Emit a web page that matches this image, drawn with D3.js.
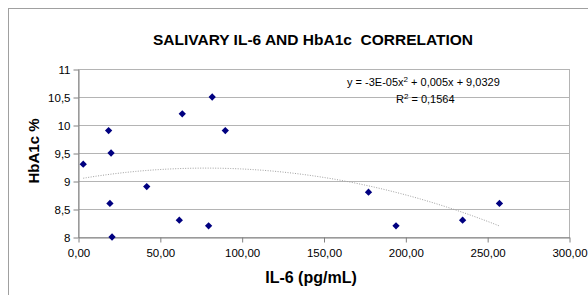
<!DOCTYPE html>
<html>
<head>
<meta charset="utf-8">
<script src="https://cdn.jsdelivr.net/npm/d3@7"></script>
<style>
  body { margin: 0; background: #fff; }
  text { font-family: Arial, "Liberation Sans", sans-serif; }
</style>
</head>
<body>
<div id="chart"></div>
<script>
// IL-6 (pg/mL) and HbA1c % per patient
const il6   = [3.2, 18.7, 20.2, 19.5, 20.8, 42, 63.7, 61.9, 82, 90, 79.8, 177.5, 194.3, 235, 257.5];
const hba1c = [9.3, 9.9, 9.5, 8.6, 8.0, 8.9, 10.2, 8.3, 10.5, 9.9, 8.2, 8.8, 8.2, 8.3, 8.6];

const xTicks = [0, 50, 100, 150, 200, 250, 300];
const yTicks = [8, 8.5, 9, 9.5, 10, 10.5, 11];

const equation = ["y = -3E-05x", "2", " + 0,005x + 9,0329"];
const rSquared = "0,1564";

const width = 588, height = 295;

const svg = d3.select("#chart")
    .append("svg")
    .attr("width", width)
    .attr("height", height);

// chart frame
svg.append("rect")
    .attr("x", 8.5)
    .attr("y", 8.5)
    .attr("width", 600)
    .attr("height", 300)
    .attr("fill", "none")
    .attr("stroke", "#a0a0a0");

let x = d3.scaleLinear().domain([0, 300]).range([78, 569]);
let y = d3.scaleLinear().domain([8, 11]).range([237, 69]);

// grid lines
svg.append("g")
    .selectAll("line")
    .data(yTicks)
    .enter()
    .append("line")
    .attr("x1", x(0))
    .attr("x2", x(300))
    .attr("y1", d => Math.round(y(d)) + 0.5)
    .attr("y2", d => Math.round(y(d)) + 0.5)
    .attr("stroke", "#b4b4b4");

// plot area border
svg.append("rect")
    .attr("x", x(0) + 0.5)
    .attr("y", Math.round(y(11)) + 0.5)
    .attr("width", x(300) - x(0))
    .attr("height", y(8) - y(11))
    .attr("fill", "none")
    .attr("stroke", "#b4b4b4");

const fmtX = d => d3.format(".2f")(d).replace(".", ",");
const fmtY = d => String(d).replace(".", ",");

// X axis
const xAxis = svg.append("g")
    .attr("transform", "translate(0.5," + (Math.round(y(8)) + 0.5) + ")")
    .call(d3.axisBottom(x).tickValues(xTicks).tickFormat(fmtX).tickSize(5).tickSizeOuter(0));

// Y axis
const yAxis = svg.append("g")
    .attr("transform", "translate(" + (x(0) + 0.5) + ",0.5)")
    .call(d3.axisLeft(y).tickValues(yTicks).tickFormat(fmtY).tickSize(5).tickSizeOuter(0));

[xAxis, yAxis].forEach(a => {
    a.select(".domain").attr("stroke", "#808080");
    a.selectAll(".tick line").attr("stroke", "#808080");
    a.selectAll(".tick text")
        .attr("fill", "#000")
        .style("font-size", "11.5px")
        .style("font-family", "Arial, 'Liberation Sans', sans-serif");
});
xAxis.selectAll(".tick text").attr("dy", "1.0em").attr("y", 8);
yAxis.selectAll(".tick text").attr("x", -8);

// quadratic least-squares trend line from the data
function polyFit2(xs, ys) {
    let n = xs.length;
    let s = [0, 0, 0, 0, 0], t = [0, 0, 0];
    for (let i = 0; i < n; i++) {
        for (let k = 0; k < 5; k++) s[k] += Math.pow(xs[i], k);
        for (let k = 0; k < 3; k++) t[k] += ys[i] * Math.pow(xs[i], k);
    }
    let m = [[s[0], s[1], s[2], t[0]], [s[1], s[2], s[3], t[1]], [s[2], s[3], s[4], t[2]]];
    for (let i = 0; i < 3; i++) {
        for (let j = i + 1; j < 3; j++) {
            let f = m[j][i] / m[i][i];
            for (let k = i; k < 4; k++) m[j][k] -= f * m[i][k];
        }
    }
    let c = [0, 0, 0];
    for (let i = 2; i >= 0; i--) {
        let v = m[i][3];
        for (let k = i + 1; k < 3; k++) v -= m[i][k] * c[k];
        c[i] = v / m[i][i];
    }
    return c;
}

const coef = polyFit2(il6, hba1c);
const xMin = d3.min(il6), xMax = d3.max(il6);
const trend = d3.range(xMin, xMax, 2).concat([xMax]);

svg.append("path")
    .datum(trend)
    .attr("fill", "none")
    .attr("stroke", "#a0a0a0")
    .attr("stroke-width", 1)
    .attr("stroke-dasharray", "1,1.5")
    .attr("d", d3.line()
        .x(d => x(d))
        .y(d => y(coef[0] + coef[1] * d + coef[2] * d * d)));

// points
svg.append("g")
    .selectAll("path")
    .data(il6)
    .enter()
    .append("path")
    .attr("transform", (d, i) => "translate(" + x(d) + "," + y(hba1c[i]) + ")")
    .attr("d", d3.symbol().type(d3.symbolDiamond2).size(34))
    .attr("fill", "#000080");

// equation label
const eq = svg.append("text")
    .attr("x", 347)
    .attr("y", 86)
    .style("font-size", "11px")
    .attr("fill", "#000");
eq.append("tspan").text(equation[0]);
eq.append("tspan").attr("dy", -4).style("font-size", "8px").text(equation[1]);
eq.append("tspan").attr("dy", 4).text(equation[2]);

const r2 = svg.append("text")
    .attr("x", 396)
    .attr("y", 103)
    .style("font-size", "11px")
    .attr("fill", "#000");
r2.append("tspan").text("R");
r2.append("tspan").attr("dy", -4).style("font-size", "8px").text("2");
r2.append("tspan").attr("dy", 4).text(" = " + rSquared);

// title
svg.append("text")
    .attr("x", 313)
    .attr("y", 45)
    .attr("text-anchor", "middle")
    .style("font-family", "'Liberation Sans Narrow', 'Arial Narrow', sans-serif")
    .style("font-weight", "bold")
    .style("font-size", "15.5px")
    .attr("xml:space", "preserve")
    .text("SALIVARY IL-6 AND HbA1c  CORRELATION");

// axis titles
svg.append("text")
    .attr("x", 311)
    .attr("y", 283)
    .attr("text-anchor", "middle")
    .style("font-weight", "bold")
    .style("font-size", "16px")
    .text("IL-6 (pg/mL)");

svg.append("text")
    .attr("transform", "translate(39,151) rotate(-90)")
    .attr("text-anchor", "middle")
    .style("font-weight", "bold")
    .style("font-size", "15px")
    .text("HbA1c %");
</script>
</body>
</html>
